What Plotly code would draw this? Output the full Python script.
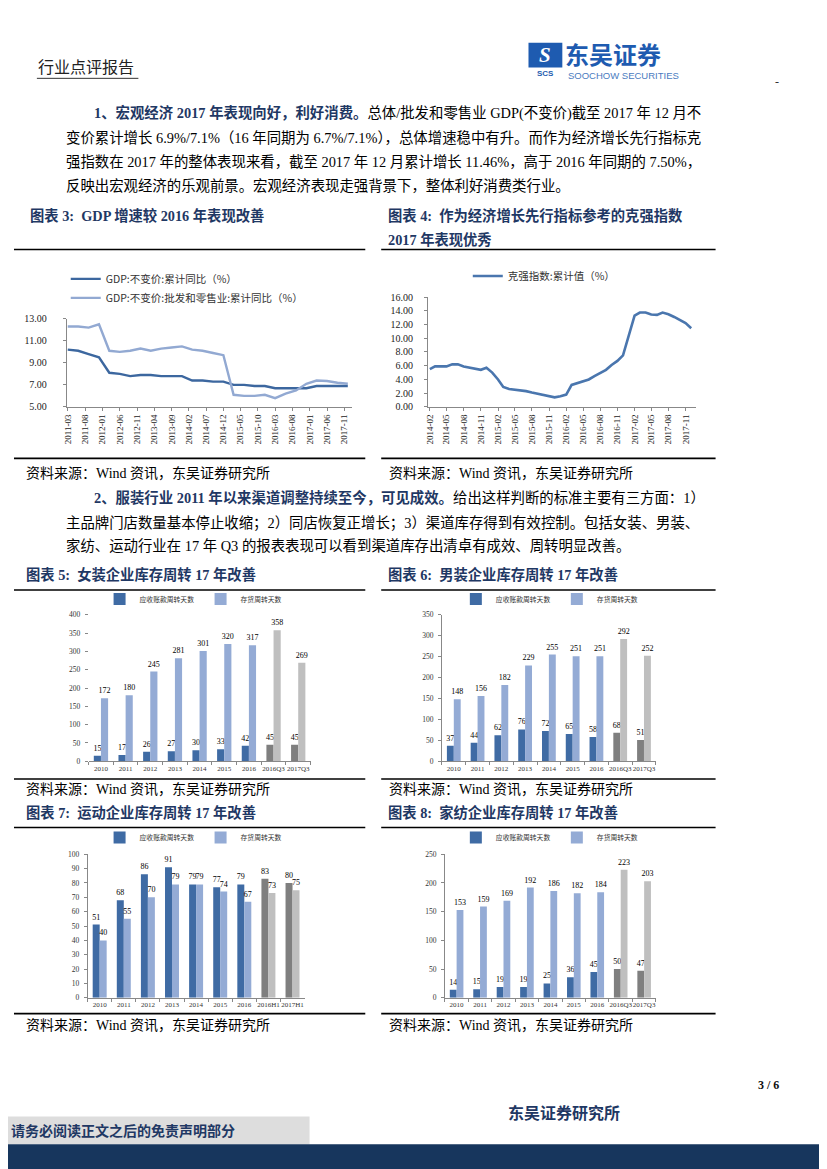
import plotly.graph_objects as go

W, H = 827, 1169
OFF = 8  # the page body adds an 8px margin around the figure


def X(p):
    return (p - OFF) / W


def Y(p):
    return 1 - (p - OFF) / H


NAVY = "#1F3864"
SERIF = "Liberation Serif, Noto Sans CJK SC, serif"
DARK_BLUE = "#3F6BA4"
LIGHT_BLUE = "#94ABD5"
DARK_GRAY = "#7F7F7F"
LIGHT_GRAY = "#BFBFBF"

# ---------------- data ----------------
gdp_quarters = ["2011-03-01", "2011-06-01", "2011-09-01", "2011-12-01",
                "2012-03-01", "2012-06-01", "2012-09-01", "2012-12-01",
                "2013-03-01", "2013-06-01", "2013-09-01", "2013-12-01",
                "2014-03-01", "2014-06-01", "2014-09-01", "2014-12-01",
                "2015-03-01", "2015-06-01", "2015-09-01", "2015-12-01",
                "2016-03-01", "2016-06-01", "2016-09-01", "2016-12-01",
                "2017-03-01", "2017-06-01", "2017-09-01", "2017-12-01"]
gdp_total = [10.2, 10.1, 9.8, 9.5, 8.1, 8.0, 7.8, 7.9,
             7.9, 7.8, 7.8, 7.8, 7.4, 7.4, 7.3, 7.3,
             7.0, 7.0, 6.9, 6.9, 6.7, 6.7, 6.7, 6.7,
             6.9, 6.9, 6.9, 6.9]
gdp_wholesale = [12.3, 12.3, 12.2, 12.5, 10.1, 10.0, 10.1, 10.3,
                 10.1, 10.3, 10.4, 10.5, 10.2, 10.1, 9.9, 9.7,
                 6.1, 6.0, 6.0, 6.1, 5.8, 6.2, 6.5, 7.1,
                 7.4, 7.35, 7.2, 7.1]
gdp_names = ["GDP:不变价:累计同比（%）", "GDP:不变价:批发和零售业:累计同比（%）"]

kq_months = ["2014-02-01", "2014-03-01", "2014-04-01", "2014-05-01", "2014-06-01",
             "2014-07-01", "2014-08-01", "2014-09-01", "2014-10-01", "2014-11-01",
             "2014-12-01", "2015-01-01", "2015-02-01", "2015-03-01", "2015-04-01",
             "2015-05-01", "2015-06-01", "2015-07-01", "2015-08-01", "2015-09-01",
             "2015-10-01", "2015-11-01", "2015-12-01", "2016-01-01", "2016-02-01",
             "2016-03-01", "2016-04-01", "2016-05-01", "2016-06-01", "2016-07-01",
             "2016-08-01", "2016-09-01", "2016-10-01", "2016-11-01", "2016-12-01",
             "2017-01-01", "2017-02-01", "2017-03-01", "2017-04-01", "2017-05-01",
             "2017-06-01", "2017-07-01", "2017-08-01", "2017-09-01", "2017-10-01",
             "2017-11-01", "2017-12-01"]
kq_values = [5.5, 5.9, 5.9, 5.9, 6.2, 6.2, 5.9, 5.7, 5.5, 5.4,
             5.7, 5.0, 4.0, 2.9, 2.6, 2.5, 2.5, 2.3, 2.1, 1.9,
             1.8, 1.6, 1.4, 1.55, 1.8, 3.2, 3.5, 3.7, 4.0, 4.5,
             5.0, 5.4, 6.1, 6.7, 7.5, 10.4, 13.3, 13.75, 13.75, 13.45,
             13.4, 13.75, 13.5, 13.1, 12.7, 12.2, 11.46]
kq_name = "克强指数:累计值（%）"

cats_q3 = ["2010", "2011", "2012", "2013", "2014", "2015", "2016", "2016Q3", "2017Q3"]
cats_h1 = ["2010", "2011", "2012", "2013", "2014", "2015", "2016", "2016H1", "2017H1"]
name_recv = "应收账款周转天数"
name_inv = "存货周转天数"

women_recv = [15, 17, 26, 27, 30, 33, 42, 45, 45]
women_inv = [172, 180, 245, 281, 301, 320, 317, 358, 269]
men_recv = [37, 44, 62, 76, 72, 65, 58, 68, 51]
men_inv = [148, 156, 182, 229, 255, 251, 251, 292, 252]
sport_recv = [51, 68, 86, 91, 79, 77, 79, 83, 80]
sport_inv = [40, 55, 70, 79, 79, 74, 67, 73, 75]
home_recv = [14, 15, 19, 19, 25, 36, 45, 50, 47]
home_inv = [153, 159, 169, 192, 186, 182, 184, 223, 203]

# ---------------- figure ----------------
fig = go.Figure()

# Chart 3: GDP lines
fig.add_trace(go.Scatter(x=gdp_quarters, y=gdp_total, name=gdp_names[0], mode="lines",
                         line=dict(color="#3C679F", width=2.4), xaxis="x", yaxis="y",
                         legend="legend"))
fig.add_trace(go.Scatter(x=gdp_quarters, y=gdp_wholesale, name=gdp_names[1], mode="lines",
                         line=dict(color="#92A9D2", width=2.4), xaxis="x", yaxis="y",
                         legend="legend"))

# Chart 4: Keqiang index
fig.add_trace(go.Scatter(x=kq_months, y=kq_values, name=kq_name, mode="lines",
                         line=dict(color="#4A76AE", width=2.6), xaxis="x2", yaxis="y2",
                         legend="legend2"))

LABEL_FONT = dict(family="Liberation Serif", size=8, color="#000000")


def bar_pair(cats, recv, inv, xa, ya, lg):
    recv_colors = [DARK_BLUE] * 7 + [DARK_GRAY] * 2
    inv_colors = [LIGHT_BLUE] * 7 + [LIGHT_GRAY] * 2
    for vals, nm, cols in ((recv, name_recv, recv_colors), (inv, name_inv, inv_colors)):
        fig.add_trace(go.Bar(x=cats, y=vals, name=nm, marker=dict(color=cols, line=dict(width=0)),
                             text=vals, textposition="outside", cliponaxis=False,
                             constraintext="none",
                             textfont=LABEL_FONT, outsidetextfont=LABEL_FONT,
                             xaxis=xa, yaxis=ya, legend=lg))


bar_pair(cats_q3, women_recv, women_inv, "x3", "y3", "legend3")
bar_pair(cats_q3, men_recv, men_inv, "x4", "y4", "legend4")
bar_pair(cats_h1, sport_recv, sport_inv, "x5", "y5", "legend5")
bar_pair(cats_q3, home_recv, home_inv, "x6", "y6", "legend6")

tickfont_line = dict(family=SERIF, size=10, color="#222222")
tickfont_bar = dict(family=SERIF, size=7.5, color="#333333")


def date_x(domain, rng, tick0, dtick):
    return dict(type="date", domain=domain, range=rng, tick0=tick0, dtick=dtick,
                tickformat="%Y-%m", tickangle=-90, tickfont=dict(family=SERIF, size=9, color="#222222"),
                showgrid=False, showline=True, linecolor="#888888", linewidth=1,
                ticks="outside", ticklen=3, tickcolor="#888888", zeroline=False, fixedrange=True)


def lin_y(domain, rng, dtick, anchor, fmt=".2f", font=tickfont_line, show_line=True, standoff=0):
    return dict(domain=domain, range=rng, tick0=rng[0], dtick=dtick, tickformat=fmt, tickfont=font,
                showgrid=False, showline=show_line, linecolor="#888888", linewidth=1,
                ticks="outside", ticklen=3, tickcolor="#888888", zeroline=False,
                ticklabelstandoff=standoff, anchor=anchor, fixedrange=True)


def cat_x(domain, anchor):
    return dict(type="category", domain=domain, anchor=anchor,
                tickfont=dict(family=SERIF, size=7, color="#333333"), tickangle=0,
                showgrid=False, showline=True, linecolor="#888888", linewidth=1,
                ticks="outside", ticklen=3, tickcolor="#888888", tickson="boundaries",
                zeroline=False, fixedrange=True)


layout = dict(
    width=W, height=H, margin=dict(l=0, r=0, t=0, b=0),
    paper_bgcolor="white", plot_bgcolor="white",
    font=dict(family=SERIF, color="#000000"),
    barmode="group", bargap=0.42, bargroupgap=0,
    xaxis=date_x([X(63), X(350)], ["2011-02-20", "2018-01-10"], "2011-03-01", "M5"),
    yaxis=lin_y([Y(405), Y(316)], [5, 13], 2, "x", standoff=14),
    xaxis2=date_x([X(426), X(695)], ["2014-01-22", "2017-12-25"], "2014-02-01", "M3"),
    yaxis2=lin_y([Y(405), Y(294)], [0, 16], 2, "x2", standoff=9),
    xaxis3=cat_x([X(85), X(308)], "y3"),
    yaxis3=lin_y([Y(763), Y(615)], [0, 400], 50, "x3", fmt="d", font=tickfont_bar, show_line=False, standoff=3),
    xaxis4=cat_x([X(440), X(655)], "y4"),
    yaxis4=lin_y([Y(763), Y(615)], [0, 350], 50, "x4", fmt="d", font=tickfont_bar, standoff=3),
    xaxis5=cat_x([X(84), X(302)], "y5"),
    yaxis5=lin_y([Y(1002), Y(857)], [0, 100], 10, "x5", fmt="d", font=tickfont_bar, standoff=3),
    xaxis6=cat_x([X(443), X(655)], "y6"),
    yaxis6=lin_y([Y(1002), Y(857)], [0, 250], 50, "x6", fmt="d", font=tickfont_bar, standoff=3),
    legend=dict(x=X(62), y=Y(261), xanchor="left", yanchor="top", orientation="v",
                font=dict(family="Noto Sans CJK SC", size=10.5, color="#333333"),
                bgcolor="rgba(0,0,0,0)", itemwidth=30, tracegroupgap=2),
    legend2=dict(x=X(466), y=Y(258), xanchor="left", yanchor="top", orientation="h",
                 font=dict(family="Noto Sans CJK SC", size=10.5, color="#333333"),
                 bgcolor="rgba(0,0,0,0)", itemwidth=30),
)
for i, (lx, ly) in enumerate([(96, 599), (454, 599), (96, 840), (454, 840)]):
    layout["legend%d" % (i + 3)] = dict(
        x=X(lx), y=Y(ly), xanchor="left", yanchor="middle", orientation="h",
        font=dict(family="Noto Sans CJK SC", size=6.8, color="#333333"),
        bgcolor="rgba(0,0,0,0)", itemwidth=30, entrywidth=56, entrywidthmode="pixels")

fig.update_layout(**layout)

annotations = []
shapes = []


def text(x, y, s, size=14.4, color="#000000", family=SERIF, xanchor="left"):
    annotations.append(dict(x=X(x), y=Y(y), xref="paper", yref="paper", text=s, showarrow=False,
                            xanchor=xanchor, yanchor="middle",
                            font=dict(family=family, size=size, color=color)))


def hline(x0, x1, y, width=1.6, color="#000000"):
    shapes.append(dict(type="line", xref="paper", yref="paper", x0=X(x0), x1=X(x1), y0=Y(y), y1=Y(y),
                       line=dict(color=color, width=width)))


def rect(x0, x1, y0, y1, color):
    shapes.append(dict(type="rect", xref="paper", yref="paper", x0=X(x0), x1=X(x1), y0=Y(y1), y1=Y(y0),
                       fillcolor=color, line=dict(width=0), layer="below"))


# Header
text(32, 62, "行业点评报告", size=16, color="#222222")
hline(33, 135, 73, width=1, color="#333333")
rect(527, 561, 37, 62, "#1E5BB0")
text(544, 49, "<b><i>S</i></b>", size=21, color="#FFFFFF", xanchor="center")
text(544, 68, "<b>SCS</b>", size=8, color="#1E5BB0", xanchor="center", family="Liberation Sans")
text(562, 48, "<b>东吴证券</b>", size=24, color="#1E5BB0", family="Noto Sans CJK SC")
text(565, 70, "SOOCHOW SECURITIES", size=9.5, color="#4A7BC0", family="Liberation Sans")
text(777, 77, "-", size=12, color="#333333", xanchor="center")

HEAD = "<span style='color:%s'><b>%%s</b></span>" % NAVY

# Paragraph 1
text(88, 108, (HEAD % "1、宏观经济 2017 年表现向好，利好消费。") + "总体/批发和零售业 GDP(不变价)截至 2017 年 12 月不")
text(60, 133, "变价累计增长 6.9%/7.1%（16 年同期为 6.7%/7.1%），总体增速稳中有升。而作为经济增长先行指标克")
text(60, 158, "强指数在 2017 年的整体表现来看，截至 2017 年 12 月累计增长 11.46%，高于 2016 年同期的 7.50%，")
text(60, 182, "反映出宏观经济的乐观前景。宏观经济表现走强背景下，整体利好消费类行业。")

# Chart titles & rules
TS = 14.3
text(24, 212, HEAD % "图表 3:  GDP 增速较 2016 年表现改善", size=TS)
text(384, 212, HEAD % "图表 4:  作为经济增长先行指标参考的克强指数", size=TS)
text(384, 236, HEAD % "2017 年表现优秀", size=TS)
for y in (246, 457, 590, 781, 830, 1018):
    hline(10, 363, y)
    hline(379, 715, y)

SRC = "资料来源：Wind 资讯，东吴证券研究所"
text(20, 472, SRC, size=14)
text(385, 472, SRC, size=14)

# Paragraph 2
text(88, 497, (HEAD % "2、服装行业 2011 年以来渠道调整持续至今，可见成效。") + "给出这样判断的标准主要有三方面：1）")
text(60, 522, "主品牌门店数量基本停止收缩；2）同店恢复正增长；3）渠道库存得到有效控制。包括女装、男装、")
text(60, 546, "家纺、运动行业在 17 年 Q3 的报表表现可以看到渠道库存出清卓有成效、周转明显改善。")

text(20, 574, HEAD % "图表 5:  女装企业库存周转 17 年改善", size=TS)
text(384, 574, HEAD % "图表 6:  男装企业库存周转 17 年改善", size=TS)
text(20, 792, SRC, size=14)
text(385, 792, SRC, size=14)
text(20, 815, HEAD % "图表 7:  运动企业库存周转 17 年改善", size=TS)
text(384, 815, HEAD % "图表 8:  家纺企业库存周转 17 年改善", size=TS)
text(20, 1030, SRC, size=14)
text(385, 1030, SRC, size=14)

# Footer
text(768, 1090, "<b>3 / 6</b>", size=12, color="#111111", xanchor="center")
text(563, 1118, "<b>东吴证券研究所</b>", size=16, color=NAVY, xanchor="center")
rect(0, 307, 1122, 1150, "#DDDDDD")
rect(0, W + OFF, 1150, H + OFF, "#17365D")
text(5, 1137, "<b>请务必阅读正文之后的免责声明部分</b>", size=14, color=NAVY)

fig.update_layout(annotations=annotations, shapes=shapes, showlegend=True)

fig.write_html("out.html")
